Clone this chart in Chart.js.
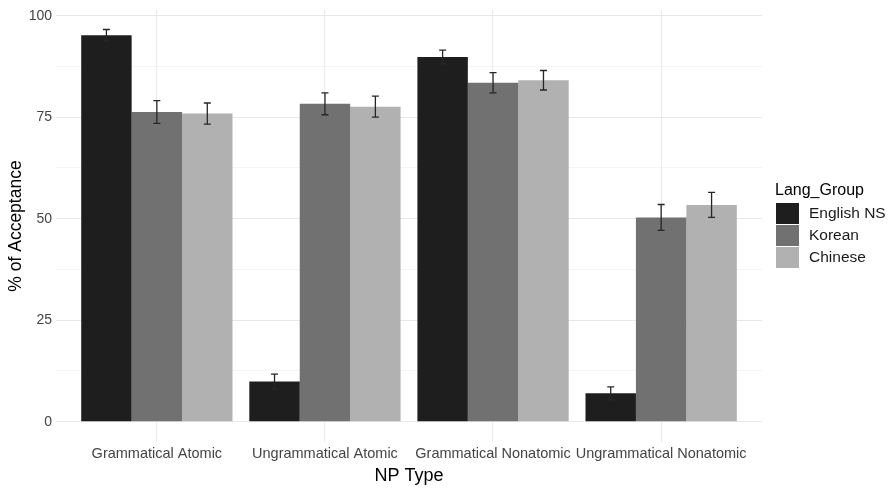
<!DOCTYPE html>
<html lang="en">
<head>
    <meta charset="UTF-8">
    <title>% of Acceptance by NP Type</title>
    <script src="https://cdn.jsdelivr.net/npm/chart.js"></script>
    <style>
        body, html {
            margin: 0;
            background: #ffffff;
        }
        .chart-box {
            width: 892px;
            height: 488px;
        }
    </style>
</head>
<body>
    <div class="chart-box">
        <canvas id="chart1"></canvas>
    </div>

    <script>
        // values
        var npTypes = ['Grammatical Atomic', 'Ungrammatical Atomic', 'Grammatical Nonatomic', 'Ungrammatical Nonatomic'];
        var groups = ['English NS', 'Korean', 'Chinese'];
        var englishNS = [95.2, 9.9, 89.8, 7.0];
        var korean = [76.3, 78.3, 83.5, 50.3];
        var chinese = [75.9, 77.6, 84.1, 53.4];
        var englishErr = [1.4, 1.8, 1.7, 1.6];
        var koreanErr = [2.8, 2.7, 2.5, 3.2];
        var chineseErr = [2.6, 2.6, 2.4, 3.1];
        var yTicks = [0, 12.5, 25, 37.5, 50, 62.5, 75, 87.5, 100];
        var groupColors = ['#1e1e1e', '#717171', '#b1b1b1'];

        var fontName = '"Liberation Sans", Arial, sans-serif';

        function toPoints(values) {
            return values.map(function (v, i) { return { x: i, y: v }; });
        }

        var errorBars = {
            id: 'errorBars',
            afterDatasetsDraw: function (chart) {
                var ctx = chart.ctx;
                var yScale = chart.scales.y;
                ctx.save();
                ctx.strokeStyle = '#262626';
                ctx.lineWidth = 1.3;
                chart.data.datasets.forEach(function (ds, di) {
                    var meta = chart.getDatasetMeta(di);
                    meta.data.forEach(function (bar, i) {
                        var v = ds.data[i].y;
                        var e = ds.errors[i];
                        var top = yScale.getPixelForValue(v + e);
                        var bot = yScale.getPixelForValue(v - e);
                        var x = bar.x;
                        ctx.beginPath();
                        ctx.moveTo(x, top); ctx.lineTo(x, bot);
                        ctx.moveTo(x - 3.5, top); ctx.lineTo(x + 3.5, top);
                        ctx.moveTo(x - 3.5, bot); ctx.lineTo(x + 3.5, bot);
                        ctx.stroke();
                    });
                });
                ctx.restore();
            }
        };

        var sideLegend = {
            id: 'sideLegend',
            afterDraw: function (chart) {
                var ctx = chart.ctx;
                var left = chart.chartArea.right + 13;
                ctx.save();
                ctx.fillStyle = '#000000';
                ctx.font = '16px ' + fontName;
                ctx.textBaseline = 'middle';
                ctx.textAlign = 'left';
                ctx.fillText('Lang_Group', left, 191);
                chart.data.datasets.forEach(function (ds, i) {
                    var top = 203 + i * 22;
                    ctx.fillStyle = ds.backgroundColor;
                    ctx.fillRect(left + 1, top, 23, 21);
                    ctx.fillStyle = '#1a1a1a';
                    ctx.font = '15.5px ' + fontName;
                    ctx.fillText(ds.label, left + 34, top + 11);
                });
                ctx.restore();
            }
        };

        window.onload = function () {
            var ctx1 = document.getElementById('chart1').getContext('2d');
            var chart1 = new Chart(ctx1, {
                type: 'bar',
                data: {
                    datasets: [
                        { label: groups[0], data: toPoints(englishNS), errors: englishErr, backgroundColor: groupColors[0] },
                        { label: groups[1], data: toPoints(korean), errors: koreanErr, backgroundColor: groupColors[1] },
                        { label: groups[2], data: toPoints(chinese), errors: chineseErr, backgroundColor: groupColors[2] }
                    ]
                },
                options: {
                    responsive: true,
                    maintainAspectRatio: false,
                    animation: false,
                    barPercentage: 1,
                    categoryPercentage: 0.9,
                    layout: { padding: { top: 10, right: 130, left: 0, bottom: 0 } },
                    plugins: {
                        legend: { display: false },
                        tooltip: { enabled: false }
                    },
                    scales: {
                        x: {
                            type: 'linear',
                            min: -0.6,
                            max: 3.6,
                            offset: false,
                            afterBuildTicks: function (scale) {
                                scale.ticks = npTypes.map(function (n, i) { return { value: i }; });
                            },
                            afterFit: function (scale) {
                                scale.height = 46;
                                scale.paddingLeft = 0;
                                scale.paddingRight = 0;
                            },
                            border: { display: false },
                            grid: { offset: false, color: '#ebebeb', lineWidth: 1.1, drawTicks: false },
                            ticks: {
                                autoSkip: false,
                                maxRotation: 0,
                                padding: 3,
                                color: '#444444',
                                font: { family: fontName, size: 14.5 },
                                callback: function (v) { return npTypes[v]; }
                            },
                            title: {
                                display: true,
                                text: 'NP Type',
                                color: '#000000',
                                font: { family: fontName, size: 18 },
                                padding: { top: 0, bottom: 1 }
                            }
                        },
                        y: {
                            min: -5,
                            max: 101.4,
                            afterBuildTicks: function (scale) {
                                scale.ticks = yTicks.map(function (v) { return { value: v }; });
                            },
                            afterFit: function (scale) {
                                scale.width = 56;
                                scale.paddingTop = 0;
                                scale.paddingBottom = 0;
                            },
                            border: { display: false },
                            grid: {
                                drawTicks: false,
                                color: function (c) { return c.tick && c.tick.value % 25 === 0 ? '#e8e8e8' : '#f1f1f1'; },
                                lineWidth: function (c) { return c.tick && c.tick.value % 25 === 0 ? 1.1 : 0.8; }
                            },
                            ticks: {
                                padding: 4,
                                color: '#444444',
                                font: { family: fontName, size: 14 },
                                callback: function (v) { return v % 25 === 0 ? String(v) : ''; }
                            },
                            title: {
                                display: true,
                                text: '% of Acceptance',
                                color: '#000000',
                                font: { family: fontName, size: 17.5 },
                                padding: { top: 6, bottom: 0 }
                            }
                        }
                    }
                },
                plugins: [errorBars, sideLegend]
            });
        };
    </script>
</body>
</html>
